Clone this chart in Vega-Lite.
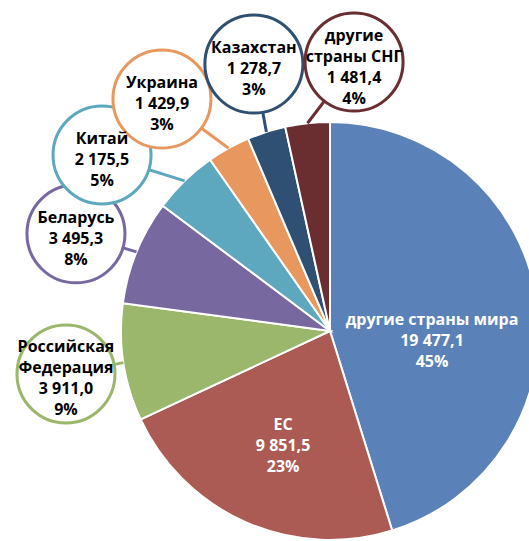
{
  "$schema": "https://vega.github.io/schema/vega-lite/v6.json",
  "width": 529,
  "height": 541,
  "padding": 0,
  "autosize": {"type": "none"},
  "background": "white",
  "config": {"view": {"stroke": null}},
  "data": {
    "values": [
      {"name": "другие страны мира", "label": "другие страны мира", "value": 19477.1, "pct": 45},
      {"name": "ЕС", "label": "ЕС", "value": 9851.5, "pct": 23},
      {"name": "Российская Федерация", "label": "Российская\nФедерация", "value": 3911.0, "pct": 9},
      {"name": "Беларусь", "label": "Беларусь", "value": 3495.3, "pct": 8},
      {"name": "Китай", "label": "Китай", "value": 2175.5, "pct": 5},
      {"name": "Украина", "label": "Украина", "value": 1429.9, "pct": 3},
      {"name": "Казахстан", "label": "Казахстан", "value": 1278.7, "pct": 3},
      {"name": "другие страны СНГ", "label": "другие\nстраны СНГ", "value": 1481.4, "pct": 4}
    ]
  },
  "transform": [
    {"window": [{"op": "row_number", "as": "idx"}, {"op": "sum", "field": "value", "as": "cum"}], "frame": [null, 0]},
    {"joinaggregate": [{"op": "sum", "field": "value", "as": "total"}]},
    {"calculate": "(datum.cum - datum.value/2)/datum.total*2*PI", "as": "mid"},
    {"calculate": "datum.mid + [14.3,-1.6,-0.55,-1.3,-8.25,-6.9,1.8,11.3][datum.idx-1]*PI/180", "as": "la"},
    {"calculate": "[102.5,124,267.5,272,288,286.4,277.6,270][datum.idx-1]", "as": "lr"},
    {"calculate": "datum.lr*sin(datum.la)", "as": "lx"},
    {"calculate": "datum.lr*cos(datum.la)", "as": "ly"},
    {"calculate": "209*sin(datum.mid)", "as": "ex"},
    {"calculate": "209*cos(datum.mid)", "as": "ey"},
    {"calculate": "datum.label + '\\n' + replace(replace(format(datum.value, ',.1f'), ',', ' '), '.', ',') + '\\n' + datum.pct + '%'", "as": "txt"},
    {"calculate": "datum.ly + (length(split(datum.txt, '\\n')) - 1) * 10.5", "as": "ty"}
  ],
  "layer": [
    {
      "mark": {"type": "arc", "outerRadius": 209, "stroke": "white", "strokeWidth": 2},
      "encoding": {
        "theta": {"field": "value", "type": "quantitative", "stack": true},
        "order": {"field": "idx", "type": "quantitative"},
        "color": {
          "field": "name", "type": "nominal", "legend": null,
          "scale": {
            "domain": ["другие страны мира", "ЕС", "Российская Федерация", "Беларусь", "Китай", "Украина", "Казахстан", "другие страны СНГ"],
            "range": ["#5B82B8", "#AC5B54", "#9BB76C", "#7769A0", "#5EA8BF", "#E8985E", "#2F5072", "#6A2E30"]
          }
        },
        "x": {"datum": 0, "type": "quantitative", "scale": {"domain": [-330, 199], "nice": false, "zero": false}, "axis": null},
        "y": {"datum": 0, "type": "quantitative", "scale": {"domain": [-210, 331], "nice": false, "zero": false}, "axis": null}
      }
    },
    {
      "transform": [{"filter": "datum.idx >= 3"}],
      "mark": {"type": "rule", "strokeWidth": 3},
      "encoding": {
        "x": {"field": "ex", "type": "quantitative"},
        "y": {"field": "ey", "type": "quantitative"},
        "x2": {"field": "lx"},
        "y2": {"field": "ly"},
        "color": {"field": "name", "type": "nominal", "legend": null}
      }
    },
    {
      "transform": [{"filter": "datum.idx >= 3"}],
      "mark": {"type": "point", "shape": "circle", "size": 9604, "filled": false, "fill": "white", "fillOpacity": 1, "strokeWidth": 3, "opacity": 1},
      "encoding": {
        "x": {"field": "lx", "type": "quantitative"},
        "y": {"field": "ly", "type": "quantitative"},
        "stroke": {
          "field": "name", "type": "nominal", "legend": null,
          "scale": {
            "domain": ["другие страны мира", "ЕС", "Российская Федерация", "Беларусь", "Китай", "Украина", "Казахстан", "другие страны СНГ"],
            "range": ["#5B82B8", "#AC5B54", "#9BB76C", "#7769A0", "#5EA8BF", "#E8985E", "#2F5072", "#6A2E30"]
          }
        }
      }
    },
    {
      "transform": [{"filter": "datum.idx >= 3"}],
      "mark": {"type": "text", "font": "Open Sans", "fontWeight": "bold", "fontSize": 16, "lineHeight": 21, "lineBreak": "\n", "color": "black", "dy": 5, "align": "center", "baseline": "middle"},
      "encoding": {
        "x": {"field": "lx", "type": "quantitative"},
        "y": {"field": "ty", "type": "quantitative"},
        "text": {"field": "txt"}
      }
    },
    {
      "transform": [{"filter": "datum.idx <= 2"}],
      "mark": {"type": "text", "font": "Open Sans", "fontWeight": "bold", "fontSize": 16, "lineHeight": 21, "lineBreak": "\n", "color": "white", "align": "center", "baseline": "middle"},
      "encoding": {
        "x": {"field": "lx", "type": "quantitative"},
        "y": {"field": "ty", "type": "quantitative"},
        "text": {"field": "txt"}
      }
    }
  ]
}
